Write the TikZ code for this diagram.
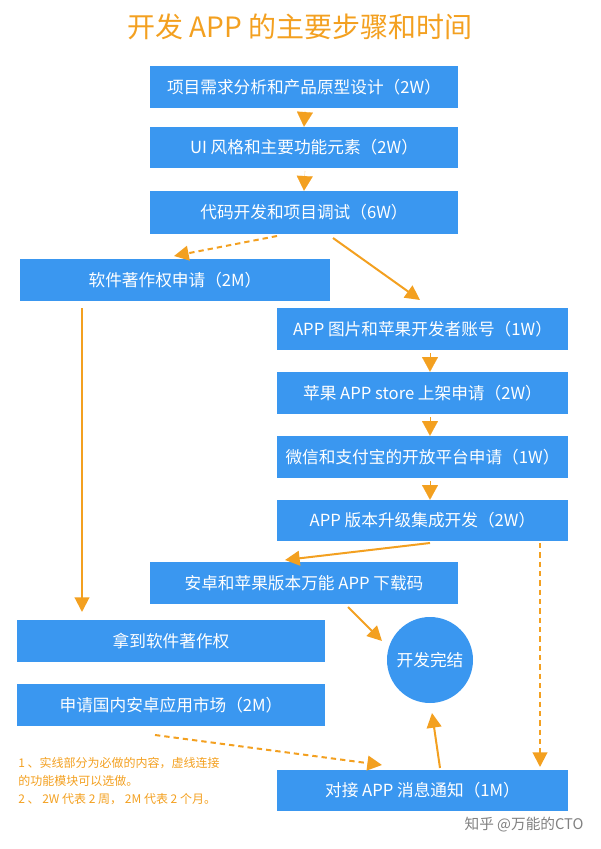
\documentclass[tikz,border=0pt]{standalone}
\usepackage{fontspec}
\setmainfont{Noto Sans CJK SC}
\usetikzlibrary{arrows.meta}
\definecolor{bx}{HTML}{3A97F0}
\definecolor{or}{HTML}{F3A020}
\begin{document}
\begin{tikzpicture}[x=0.75pt,y=-0.75pt,
 box/.style={fill=bx,text=white,inner sep=0,font=\fontsize{12.5}{14}\selectfont},
 ar/.style={or,line width=1.5pt,-{Triangle[length=11pt,width=11pt]}},
 da/.style={ar,dash pattern=on 4pt off 3pt},
 tri/.style={or,line width=0.1pt,-{Triangle[length=11pt,width=12pt]}}]
\useasboundingbox (0,0) rectangle (600,849);
\node[or,font=\fontsize{21}{24}\selectfont] (t) at (300,27) {开发 APP 的主要步骤和时间};
\newcommand{\bx}[6]{\node[box,minimum width=#3*0.75pt-#2*0.75pt,minimum height=#5*0.75pt-#4*0.75pt] (#1) at ({(#2+#3)/2},{(#4+#5)/2}) {#6};}
\bx{b1}{150}{458}{66}{108}{项目需求分析和产品原型设计（2W）}
\bx{b2}{150}{458}{127}{168}{UI 风格和主要功能元素（2W）}
\bx{b3}{150}{458}{191}{234}{代码开发和项目调试（6W）}
\bx{b4}{20}{330}{259}{301}{软件著作权申请（2M）}
\bx{b5}{277}{568}{308}{350}{APP 图片和苹果开发者账号（1W）}
\bx{b6}{277}{568}{372}{414}{苹果 APP store 上架申请（2W）}
\bx{b7}{277}{568}{436}{478}{微信和支付宝的开放平台申请（1W）}
\bx{b8}{277}{568}{500}{541}{APP 版本升级集成开发（2W）}
\bx{b9}{150}{458}{562}{604}{安卓和苹果版本万能 APP 下载码}
\bx{b10}{17}{325}{620}{662}{拿到软件著作权}
\bx{b11}{17}{325}{684}{726}{申请国内安卓应用市场（2M）}
\bx{b12}{277}{568}{770}{811}{对接 APP 消息通知（1M）}
\node[circle,fill=bx,text=white,minimum size=64.5pt,inner sep=0,font=\fontsize{12.5}{14}\selectfont] (c) at (430,660) {开发完结};
\draw[tri] (305,111) -- (b2.north);
\draw[tri] (305,171) -- (b3.north);
\draw[tri] (430,353) -- (b6.north -| 430,0);
\draw[tri] (430,417) -- (b7.north -| 430,0);
\draw[tri] (430,481) -- (b8.north -| 430,0);
\coordinate (p1) at (277,236); \coordinate (p2) at (174,256);
\draw[da] (p1) -- (p2);
\coordinate (p3) at (333,238); \coordinate (p4) at (420,300);
\draw[ar] (p3) -- (p4);
\coordinate (p5) at (82,308); \coordinate (p6) at (82,612);
\draw[ar] (p5) -- (p6);
\coordinate (p7) at (430,543); \coordinate (p8) at (285,560);
\draw[ar] (p7) -- (p8);
\coordinate (p9) at (540,543); \coordinate (p10) at (540,767);
\draw[da] (p9) -- (p10);
\coordinate (p11) at (348,607); \coordinate (p12) at (382,641);
\draw[ar] (p11) -- (p12);
\coordinate (p13) at (155,735); \coordinate (p14) at (382,765);
\draw[da] (p13) -- (p14);
\coordinate (p15) at (440,768); \coordinate (p16) at (432,713);
\draw[ar] (p15) -- (p16);
\node[or,anchor=north west,align=left,font=\fontsize{9}{13.5}\selectfont,inner sep=0] (n) at (18,757) {1 、实线部分为必做的内容，虚线连接\\的功能模块可以选做。\\2 、 2W 代表 2 周， 2M 代表 2 个月。};
\node[gray,font=\fontsize{11}{12}\selectfont] (w) at (524,825) {知乎 @万能的CTO};
\end{tikzpicture}
\end{document}
